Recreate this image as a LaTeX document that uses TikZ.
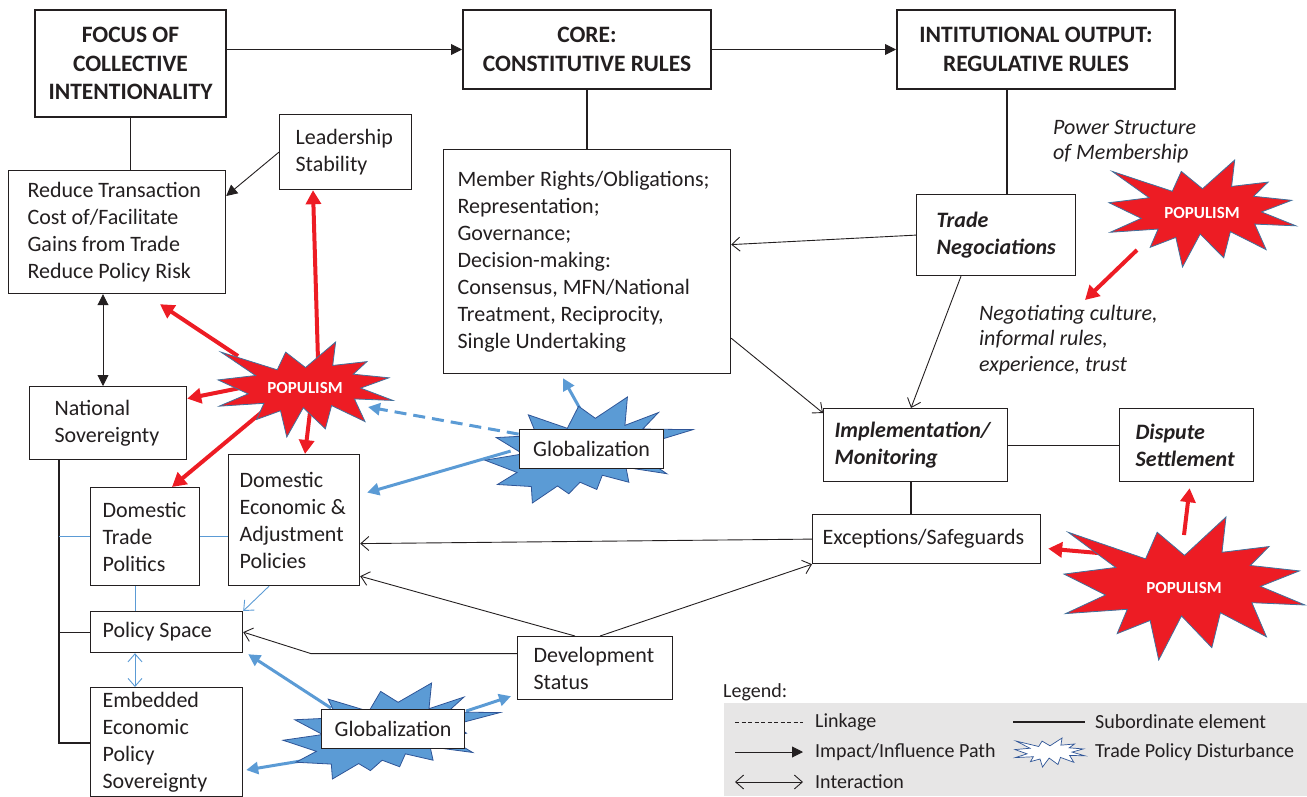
\documentclass[tikz,border=0pt]{standalone}
\usepackage{fontspec}
\setmainfont{Carlito}
\usetikzlibrary{arrows.meta}
\hyphenpenalty=10000
\exhyphenpenalty=10000
\definecolor{popred}{HTML}{ED1C24}
\definecolor{globblue}{HTML}{5B9BD5}
\definecolor{starline}{HTML}{41719C}
\definecolor{darkblue}{HTML}{2F5597}
\definecolor{legendgrey}{HTML}{E7E6E6}
\definecolor{ink}{HTML}{231F20}
\pgfdeclarelayer{back}
\pgfdeclarelayer{arrowlayer}
\pgfdeclarelayer{starlayer}
\pgfsetlayers{back,arrowlayer,starlayer,main}
\newcommand\ns{\spaceskip=0pt\xspaceskip=0pt\relax}
\tikzset{
 boxbase/.style={draw=ink, fill=white, anchor=north west, inner sep=0pt, text=ink},
 plainbox/.style={boxbase, line width=1.2pt, align=left, font=\fontsize{22}{27}\selectfont},
 bibox/.style={font=\bfseries\itshape\fontsize{22}{27}\selectfont},
 titlebox/.style={boxbase, line width=2pt, align=center, font=\bfseries\fontsize{23.5}{28.5}\selectfont},
 globbox/.style={boxbase, line width=1.2pt, align=center, font=\fontsize{22}{27}\selectfont},
 sub/.style={draw=ink, line width=1.2pt},
 thinline/.style={draw=ink, line width=0.9pt},
 impact/.style={thinline, -{Triangle[length=11pt,width=11pt]}},
 infl/.style={thinline, -{Straight Barb[length=8pt,width=14pt]}},
 interact/.style={thinline, {Straight Barb[length=8pt,width=14pt]}-{Straight Barb[length=8pt,width=14pt]}},
 bluethin/.style={draw=globblue, line width=0.9pt},
 redarrow/.style={draw=popred, line width=4pt, -{Triangle[length=14pt,width=15pt]}},
 bluearrow/.style={draw=globblue, line width=3pt, -{Triangle[length=12pt,width=12pt]}},
 popstar/.style={fill=popred, draw=starline, line width=0.8pt},
 globstar/.style={fill=globblue, draw=darkblue, line width=0.8pt},
 poptext/.style={text=white, font=\bfseries\fontsize{17}{20}\selectfont, inner sep=0pt},
 note/.style={anchor=base west, align=left, inner sep=0pt, text=ink, text width=260pt, font=\itshape\fontsize{22}{25.5}\selectfont},
 legtext/.style={anchor=west, inner sep=0pt, text=ink, font=\fontsize{20}{24}\selectfont},
}
% box: [opts]{name}{x}{y}{w}{h}{inset}{text}
\newcommand\tbox[8][]{\node[plainbox,#1,text width=#5pt,minimum height=#6pt] (#2) at (#3,#4) {\leftskip=#7pt\ns #8\par};}
% explosion shapes: {style}{x0}{y0}{w}{h}
\newcommand\explodeA[5]{\begin{scope}[shift={(#2,#3)},xscale=#4/216,yscale=#5/216]
\path[#1] (108,58)--(145.2,0)--(141.6,53.3)--(183.8,44.6)--(167,73.2)--(211,81.4)--(176.1,104.8)--(216,132.9)--(168.4,129.4)--(181.5,181)--(140.2,144.6)--(132.5,197.4)--(105.3,149.4)--(84.9,216)--(77.2,156.3)--(47.6,176.2)--(56.7,139.4)--(1.4,145.9)--(37.2,117.8)--(0,86.2)--(46.3,76.2)--(3.7,23)--(73.1,63.2)--(83.5,23)--cycle;
\end{scope}}
\newcommand\explodeB[5]{\begin{scope}[shift={(#2,#3)},xscale=#4/216,yscale=#5/216]
\path[#1] (114.6,43.4)--(147.9,0)--(145.3,57.8)--(180.1,31.7)--(163.8,65.3)--(216,66.5)--(169.9,94)--(182.7,112.9)--(163.8,123.1)--(188.8,156.3)--(146.4,143.5)--(149.4,173.7)--(121.8,159.4)--(116.1,188.4)--(98.7,173.7)--(87,197.1)--(75.3,181.3)--(49.2,216)--(48.1,182.4)--(12.9,178.3)--(33.3,153.7)--(0,128.8)--(39.4,115.9)--(11.7,82.7)--(53.7,78.2)--(45,36.3)--(85.5,63.8)--(97.2,18.9)--cycle;
\end{scope}}
\begin{document}
\begin{tikzpicture}[x=1pt,y=-1pt]
\useasboundingbox (0,0) rectangle (1307,796);

% ---------- boxes ----------
\node[titlebox, minimum width=191pt, minimum height=107pt] (box1) at (34,9) {\ns FOCUS OF\\COLLECTIVE\\INTENTIONALITY};
\node[titlebox, minimum width=248pt, minimum height=79pt] (box2) at (462,9) {\ns CORE:\\CONSTITUTIVE RULES};
\node[titlebox, minimum width=278pt, minimum height=79pt] (box3) at (896,9) {\ns INTITUTIONAL OUTPUT:\\REGULATIVE RULES};

\tbox{lead}{279}{114}{132}{75}{16}{Leadership\\Stability}
\tbox{reduce}{8}{170}{217}{123}{19}{Reduce Transaction\\Cost of/Facilitate\\Gains from Trade\\Reduce Policy Risk}
\tbox{member}{443}{149}{287}{224}{14}{Member Rights/Obligations;\\Representation;\\Governance;\\Decision-making:\\Consensus, MFN/National\\Treatment, Reciprocity,\\Single Undertaking}
\tbox[bibox]{trade}{916}{194}{159}{81}{20}{Trade\\Negociations}
\tbox[bibox]{impl}{823}{408}{184}{73}{11}{Implementation/\\Monitoring}
\tbox[bibox]{dispute}{1119}{408}{134}{73}{16}{Dispute\\Settlement}
\tbox{exc}{812}{514}{228}{49}{10}{Exceptions/Safeguards}
\tbox{natsov}{29}{386}{157}{73}{25}{National\\Sovereignty}
\tbox{domtrade}{90}{487}{109}{98}{12}{Domestic\\Trade\\Politics}
\tbox{domecon}{228}{454}{131}{131}{11}{Domestic\\Economic \&\\Adjustment\\Policies}
\tbox{policy}{90}{611}{152}{41}{12}{Policy Space}
\tbox{emb}{90}{687}{152}{109}{12}{Embedded\\Economic\\Policy\\Sovereignty}
\tbox{dev}{517}{636}{155}{63}{16}{Development\\Status}
\node[globbox, minimum width=144pt, minimum height=39pt] (glob1) at (519,429) {Globalization};
\node[globbox, minimum width=143pt, minimum height=39pt] (glob2) at (321,709) {Globalization};

\node[poptext] (pop1) at (305,388) {POPULISM};
\node[poptext] (pop2) at (1202,213) {POPULISM};
\node[poptext] (pop3) at (1184,588) {POPULISM};

\node[note] (power) at (1053,134) {\ns Power Structure\\of Membership};
\node[note] (neg) at (979,320) {\ns Negotiating culture,\\informal rules,\\experience, trust};

% ---------- black connectors ----------
\draw[impact] (box1.east |- box2.west) -- (box2.west);
\draw[impact] (box2.east) -- (box3.west);
\draw[sub] (box1.south) -- (box1.south |- reduce.north);
\draw[sub] (box2.south) -- (box2.south |- member.north);
\coordinate (t3) at ([xshift=91pt]trade.north west);
\draw[sub] (t3) -- (t3 |- box3.south);
\draw[impact] (lead.west) -- ([yshift=-26pt]reduce.north east);
\coordinate (r1) at ([xshift=95pt]reduce.south west);
\draw[thinline, {Triangle[length=11pt,width=11pt]}-{Triangle[length=11pt,width=11pt]}] (r1) -- (r1 |- natsov.north);
\draw[infl] (trade.west) -- ([yshift=17pt]member.east);
\draw[infl] ([yshift=36pt]member.south east) -- ([yshift=-5pt]impl.north west);
\coordinate (t4) at ([xshift=45pt]trade.south west);
\draw[infl] (t4) -- ([xshift=88pt]impl.north west);
\draw[sub] (impl.east) -- (dispute.west);
\coordinate (i1) at ([xshift=88pt]impl.south west);
\draw[sub] (i1) -- (i1 |- exc.north);
\draw[infl] (exc.west) -- ([yshift=-23.5pt]domecon.east);
\draw[infl] ([xshift=83pt]dev.north west) -- (exc.south west);
\draw[infl] ([xshift=58pt]dev.north west) -- ([yshift=10pt]domecon.south east);
\draw[infl] ([yshift=14.5pt]dev.west) -- ++(-206,0) -- (policy.east);
\coordinate (n1) at ([xshift=30pt]natsov.south west);
\draw[sub] (n1) |- ([yshift=-56pt]emb.north west);
\draw[sub] (policy.west) -- (policy.west -| n1);
\draw[bluethin] (domtrade.west) -- (domtrade.west -| n1);
\draw[bluethin] (domtrade.east) -- (domtrade.east -| domecon.west);
\coordinate (p1) at ([xshift=45pt]policy.north west);
\draw[bluethin] (p1) -- (p1 |- domtrade.south);
\draw[bluethin, -{Straight Barb[length=8pt,width=14pt]}] ([xshift=41pt]domecon.south west) -- (policy.north east);
\coordinate (p2) at ([xshift=45pt]policy.south west);
\draw[bluethin, {Straight Barb[length=8pt,width=14pt]}-{Straight Barb[length=8pt,width=14pt]}] (p2) -- (p2 |- emb.north);

% ---------- thick disturbance arrows ----------
\begin{pgfonlayer}{arrowlayer}
\draw[redarrow] ([shift={(13,-28)}]pop1.center) -- ([xshift=34pt]lead.south west);
\draw[redarrow] ([shift={(-67,-32)}]pop1.center) -- ([shift={(152,10)}]reduce.south west);
\draw[redarrow] ([shift={(-65,0)}]pop1.center) -- ([yshift=24.5pt]natsov.east);
\draw[redarrow] ([shift={(-43,24)}]pop1.center) -- ([xshift=82pt]domtrade.north west);
\draw[redarrow] ([shift={(5,24)}]pop1.center) -- ([xshift=77pt]domecon.north west);
\draw[redarrow] ([shift={(-65,37)}]pop2.center) -- ([shift={(106,-20)}]neg.base west);
\draw[redarrow] ([shift={(-63,-33)}]pop3.center) -- ([shift={(7,9.5)}]exc.east);
\draw[redarrow] ([shift={(0,-53)}]pop3.center) -- ([shift={(3,6)}]dispute.south);
\draw[bluearrow] ([shift={(-3,-25)}]glob1.center) -- ([shift={(120,4)}]member.south west);
\draw[bluearrow, dash pattern=on 12pt off 7pt] ([shift={(-73,-15)}]glob1.center) -- ([shift={(63,19)}]pop1.center);
\draw[bluearrow] ([shift={(-81,2)}]glob1.center) -- ([shift={(7,-27.5)}]domecon.east);
\draw[bluearrow] ([shift={(-62,-21)}]glob2.center) -- ([shift={(5,1)}]policy.south east);
\draw[bluearrow] ([shift={(73,-18)}]glob2.center) -- ([shift={(-6,-4)}]dev.south west);
\draw[bluearrow] ([shift={(-93,32)}]glob2.center) -- ([shift={(3,83)}]emb.north east);
\end{pgfonlayer}

% ---------- explosions ----------
\begin{pgfonlayer}{starlayer}
\explodeA{popstar}{218}{342}{175}{95}
\explodeA{popstar}{1109}{160}{187}{107}
\explodeA{popstar}{1064}{517}{241}{143}
\explodeB{globstar}{485}{397}{208}{106}
\explodeB{globstar}{283}{683}{217}{96}
\end{pgfonlayer}

% ---------- legend ----------
\begin{pgfonlayer}{back}
\fill[legendgrey] (724,703) rectangle (1307,796);
\end{pgfonlayer}
\node[legtext] (legtitle) at (723,692) {Legend:};
\draw[thinline, dash pattern=on 4pt off 2.5pt] (735,722) -- (803,722);
\node[legtext] (lg1) at (815,722) {Linkage};
\draw[sub] (1013,722) -- (1085,722);
\node[legtext] (lg2) at (1095,722) {Subordinate element};
\draw[impact] (735,752) -- (803,752);
\node[legtext] (lg3) at (815,752) {Impact/Influence Path};
\explodeA{fill=white,draw=darkblue,line width=0.7pt}{1015}{738}{70}{29}
\node[legtext] (lg4) at (1095,752) {Trade Policy Disturbance};
\draw[interact] (735,782) -- (803,782);
\node[legtext] (lg5) at (815,782) {Interaction};
\end{tikzpicture}
\end{document}
